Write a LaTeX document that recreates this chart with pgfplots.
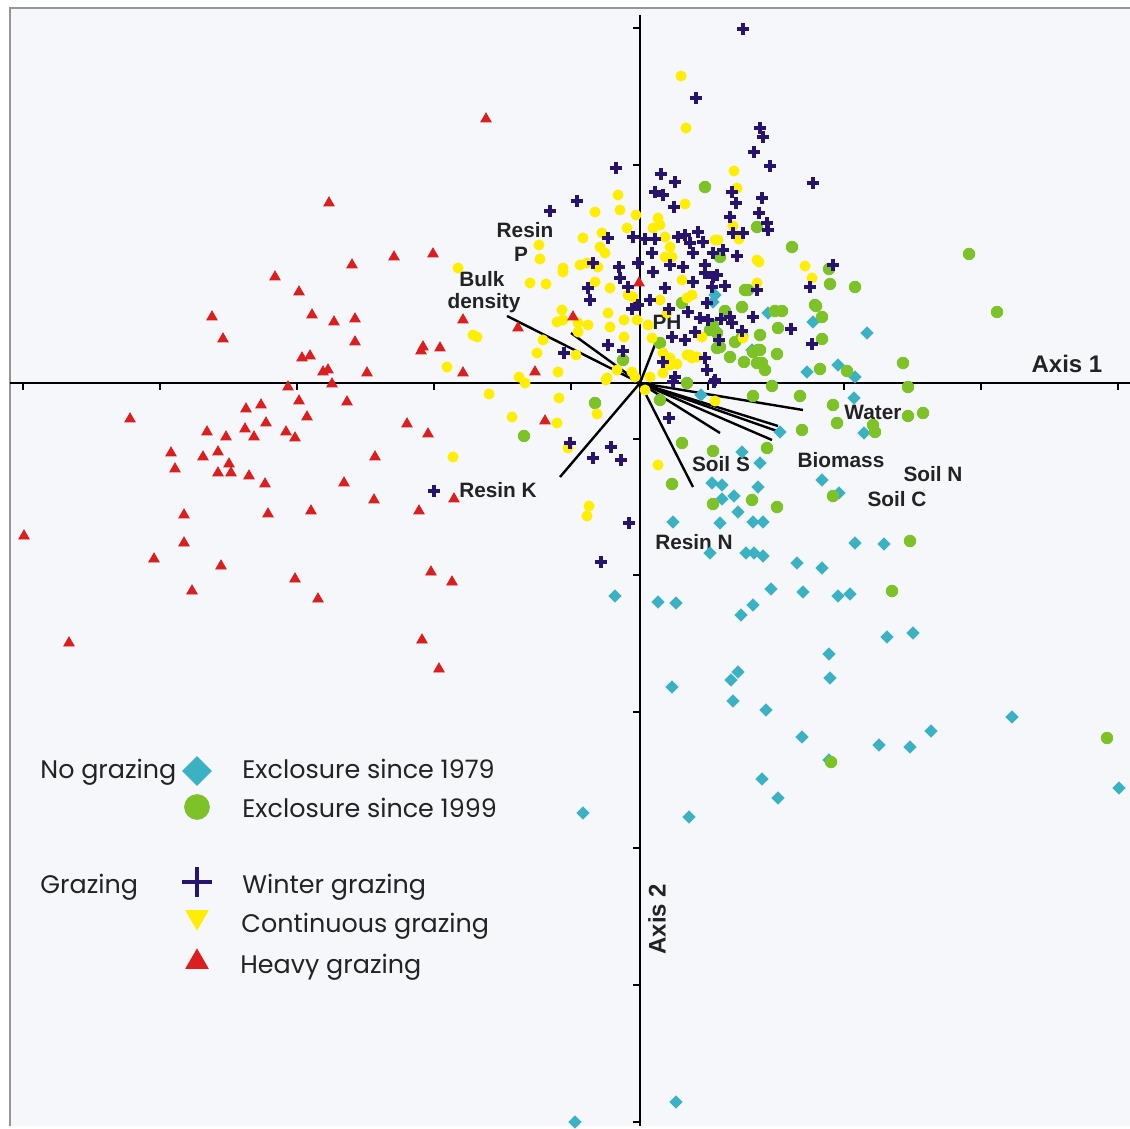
\documentclass[border=0pt]{standalone}
\usepackage{pgfplots}
\pgfplotsset{compat=1.18}
\usepackage{fontspec}
\setmainfont{Liberation Sans}
\newfontfamily\legfont{Poppins}
\definecolor{bgc}{RGB}{245,247,250}
\definecolor{cyanc}{RGB}{58,178,196}
\definecolor{greenc}{RGB}{125,194,38}
\definecolor{navyc}{RGB}{40,20,110}
\definecolor{yellowc}{RGB}{255,238,0}
\definecolor{redc}{RGB}{220,30,30}
\definecolor{framec}{RGB}{150,150,150}
\definecolor{txtc}{RGB}{35,35,35}
\begin{document}
\begin{tikzpicture}
\begin{axis}[
  width=565pt, height=563pt, scale only axis,
  xmin=0, xmax=1130, ymin=0, ymax=1126, y dir=reverse,
  hide axis,
]
\fill[white] (axis cs:0,0) rectangle (axis cs:1130,1126);
\fill[bgc] (axis cs:10,8) rectangle (axis cs:1130,1126);
\draw[framec, line width=0.8pt] (axis cs:10,1126) -- (axis cs:10,8) -- (axis cs:1130,8);

% exclosure since 1979 (cyan diamonds)
\addplot[only marks, mark=square*, mark size=2.15pt, color=cyanc, mark options={rotate=45}] coordinates {
(854,398)(780,432)(864,433)(760,463)(822,480)(839,493)(758,487)(763,522)(855,543)(884,544)
(763,556)(797,563)(822,568)(771,589)(803,592)(838,596)(850,594)(887,637)(913,633)(829,654)
(830,678)(766,710)(768,313)(813,322)(867,333)(752,350)(807,372)(838,365)(855,377)(715,295)
(701,395)(713,302)(742,452)(712,483)(722,485)(734,496)(722,499)(738,512)(753,522)(720,523)
(673,522)(710,553)(746,553)(754,553)(615,596)(658,602)(676,603)(753,605)(741,615)(738,672)
(731,680)(672,687)(733,701)(802,737)(829,760)(879,745)(910,747)(931,731)(1012,717)(1119,788)
(762,779)(778,798)(583,813)(689,817)(676,1102)(575,1122)
};
% exclosure since 1999 (green circles)
\addplot[only marks, mark=*, mark size=2.9pt, color=greenc] coordinates {
(705,187)(757,227)(720,257)(745,290)(682,303)(710,330)(717,333)(725,311)(742,337)(735,342)
(730,357)(744,362)(753,352)(623,360)(660,343)(720,347)(792,247)(969,254)(829,269)(830,284)
(855,287)(997,312)(775,311)(782,311)(816,306)(822,317)(778,328)(760,335)(822,339)(760,350)
(777,354)(762,363)(765,370)(820,369)(847,371)(903,363)(748,290)(742,307)(815,305)(713,325)
(717,348)(758,350)(757,363)(687,383)(772,386)(753,396)(800,396)(833,405)(802,430)(837,423)
(908,387)(908,416)(923,413)(873,425)(875,432)(767,448)(833,496)(777,507)(910,541)(892,591)
(595,403)(524,436)(682,443)(713,451)(672,484)(713,504)(752,500)(660,400)(1107,738)(831,762)
};
% continuous grazing (yellow)
\addplot[only marks, mark=*, mark size=2.55pt, color=yellowc] coordinates {
(681,76)(686,128)(734,171)(737,188)(685,204)(618,195)(620,210)(595,212)(636,215)(658,218)
(660,225)(653,228)(627,228)(602,233)(583,238)(539,245)(540,259)(665,237)(670,247)(672,257)
(600,247)(605,253)(580,265)(587,263)(563,268)(598,267)(715,240)(733,226)(718,240)(739,239)
(759,262)(805,266)(812,278)(458,268)(530,283)(546,284)(563,272)(595,282)(610,288)(628,295)
(633,297)(682,280)(692,295)(687,298)(562,310)(557,322)(563,320)(578,323)(588,325)(608,313)
(610,327)(624,320)(637,320)(648,325)(624,337)(652,338)(578,332)(543,340)(537,353)(576,355)
(519,377)(525,383)(558,372)(606,380)(632,372)(635,377)(650,377)(663,373)(670,365)(677,364)
(645,390)(473,335)(477,337)(447,367)(660,300)(667,313)(663,353)(670,358)(687,355)(692,358)
(757,283)(702,337)(690,355)(697,357)(743,338)(665,257)(757,260)(617,370)(607,378)
(489,394)(559,398)(597,414)(512,417)(557,423)(715,401)(568,448)(453,457)(589,506)(587,516)(658,465)
};
% heavy grazing (red triangles)
\addplot[only marks, mark=triangle*, mark size=3.0pt, color=redc] coordinates {
(329,203)(352,265)(275,277)(299,292)(212,317)(312,315)(334,322)(355,319)(223,339)(355,342)
(302,358)(310,356)(323,372)(328,370)(367,373)(486,119)(394,257)(433,254)(463,320)(518,328)
(423,347)(421,351)(440,348)(463,373)(535,372)(573,317)(639,283)(288,387)(332,384)(299,401)
(347,402)(130,419)(246,409)(261,405)(307,417)(207,432)(245,429)(266,423)(286,432)(295,438)
(226,437)(254,437)(171,453)(203,457)(218,452)(229,464)(175,469)(218,473)(231,473)(249,476)
(265,484)(375,457)(344,483)(374,500)(184,515)(268,514)(311,511)(24,536)(184,543)(154,559)
(221,566)(295,579)(192,591)(318,599)(69,643)(407,424)(428,434)(545,421)(454,499)(419,511)
(431,572)(452,582)(422,640)(439,669)
};
% winter grazing (navy crosses)
\addplot[only marks, mark=+, mark size=3.1pt, color=navyc, mark options={line width=2pt}] coordinates {
(743,29)(696,98)(616,168)(577,201)(550,211)(661,174)(675,182)(655,192)(663,195)(674,207)
(760,128)(763,137)(754,152)(770,166)(813,183)(732,192)(736,203)(762,198)(759,213)(730,217)
(767,223)(768,230)(743,233)(733,233)(685,235)(698,232)(690,243)(703,242)(693,253)(713,253)
(723,250)(737,256)(833,265)(705,265)(683,267)(608,238)(633,237)(645,239)(655,239)(652,253)
(593,263)(619,267)(638,263)(670,265)(678,237)(810,287)(791,329)(812,344)(588,288)(590,300)
(620,278)(628,287)(653,272)(665,288)(650,300)(632,309)(669,309)(672,337)(608,345)(623,351)
(564,353)(663,362)(675,377)(669,418)(638,305)(693,282)(705,273)(713,277)(717,275)(712,287)
(725,286)(688,312)(700,318)(708,320)(721,319)(730,317)(732,323)(753,317)(742,331)(695,332)
(685,340)(719,340)(705,358)(707,370)(715,380)(757,290)(707,303)(570,443)(593,458)(611,447)
(621,460)(434,491)(629,523)(601,562)(673,382)(714,382)
};

% axes
\draw[black, line width=1pt] (axis cs:10,383) -- (axis cs:1130,383);
\draw[black, line width=1pt] (axis cs:640,15) -- (axis cs:640,1126);
\pgfplotsinvokeforeach{23,160,297,434,571,708,844,981,1118}{
  \draw[black, line width=1.2pt] (axis cs:#1,383) -- (axis cs:#1,390);
}
\pgfplotsinvokeforeach{28,165,302,439,575,712,848,985,1122}{
  \draw[black, line width=1.2pt] (axis cs:640,#1) -- (axis cs:633,#1);
}

% environmental vectors
\addplot[black, line width=1.2pt, no marks] coordinates {(640,383)(507,316)};
\addplot[black, line width=1.2pt, no marks] coordinates {(640,383)(571,333)};
\addplot[black, line width=1.2pt, no marks] coordinates {(640,383)(656,342)};
\addplot[black, line width=1.2pt, no marks] coordinates {(640,383)(560,477)};
\addplot[black, line width=1.2pt, no marks] coordinates {(640,383)(693,487)};
\addplot[black, line width=1.2pt, no marks] coordinates {(640,383)(720,433)};
\addplot[black, line width=1.2pt, no marks] coordinates {(640,383)(803,410)};
\addplot[black, line width=1.2pt, no marks] coordinates {(640,383)(778,426)};
\addplot[black, line width=1.2pt, no marks] coordinates {(640,383)(777,431)};
\addplot[black, line width=1.2pt, no marks] coordinates {(640,383)(772,440)};

% labels
\begin{scope}[every node/.style={font=\fontsize{10.4}{12}\selectfont\bfseries, text=txtc, inner sep=0pt, anchor=base}]
\node at (axis cs:525,238) {Resin};
\node at (axis cs:521,262) {P};
\node at (axis cs:482,287) {Bulk};
\node at (axis cs:484,309) {density};
\node at (axis cs:667,330) {PH};
\node at (axis cs:873,420) {Water};
\node at (axis cs:721,472) {Soil S};
\node at (axis cs:841,467) {Biomass};
\node at (axis cs:933,481) {Soil N};
\node at (axis cs:897,507) {Soil C};
\node at (axis cs:498,497) {Resin K};
\node at (axis cs:694,549) {Resin N};
\node[font=\fontsize{12}{14}\selectfont\bfseries] at (axis cs:1067,373) {Axis 1};
\node[font=\fontsize{12}{14}\selectfont\bfseries, rotate=90, anchor=center] at (axis cs:657,919) {Axis 2};
\end{scope}

% legend
\addplot[only marks, mark=square*, mark size=5.1pt, color=cyanc, mark options={rotate=45}] coordinates {(197,771)};
\addplot[only marks, mark=*, mark size=6.2pt, color=greenc] coordinates {(197,807)};
\addplot[only marks, mark=+, mark size=7.5pt, color=navyc, mark options={line width=2.3pt}] coordinates {(197,882)};
\addplot[only marks, mark=triangle*, mark size=6.4pt, color=yellowc, mark options={rotate=180}] coordinates {(197,917)};
\addplot[only marks, mark=triangle*, mark size=6.4pt, color=redc] coordinates {(197,962)};
\begin{scope}[every node/.style={font=\legfont\fontsize{12.7}{15}\selectfont, text=txtc, inner sep=0pt, anchor=base west}]
\node at (axis cs:40,778) {No grazing};
\node at (axis cs:242,778) {Exclosure since 1979};
\node at (axis cs:242,817) {Exclosure since 1999};
\node at (axis cs:40,893) {Grazing};
\node at (axis cs:242,893) {Winter grazing};
\node at (axis cs:241,932) {Continuous grazing};
\node at (axis cs:240,973) {Heavy grazing};
\end{scope}
\end{axis}
\end{tikzpicture}
\end{document}
